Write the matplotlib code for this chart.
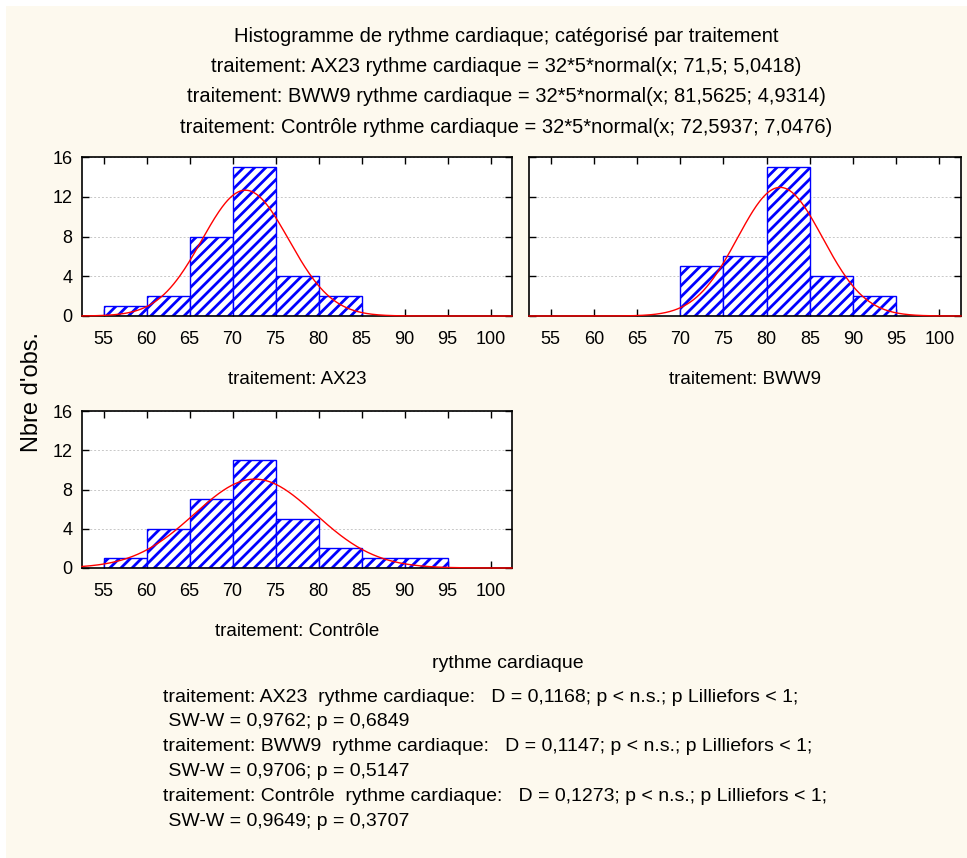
import numpy as np
import matplotlib
matplotlib.use("Agg")
import matplotlib.pyplot as plt
from matplotlib.patches import Rectangle

# --- data ---
bin_edges = [50, 55, 60, 65, 70, 75, 80, 85, 90, 95, 100]
groups = ["AX23", "BWW9", "Contrôle"]
counts_ax23 = [0, 1, 2, 8, 15, 4, 2, 0, 0, 0]
counts_bww9 = [0, 0, 0, 0, 5, 6, 15, 4, 2, 0]
counts_ctrl = [0, 1, 4, 7, 11, 5, 2, 1, 1, 0]
means = [71.5, 81.5625, 72.5937]
sds = [5.0418, 4.9314, 7.0476]
n_obs = 32
bin_w = 5
xticks = [55, 60, 65, 70, 75, 80, 85, 90, 95, 100]
yticks = [0, 4, 8, 12, 16]
header = [
    "Histogramme de rythme cardiaque; catégorisé par traitement",
    "traitement: AX23 rythme cardiaque = 32*5*normal(x; 71,5; 5,0418)",
    "traitement: BWW9 rythme cardiaque = 32*5*normal(x; 81,5625; 4,9314)",
    "traitement: Contrôle rythme cardiaque = 32*5*normal(x; 72,5937; 7,0476)",
]
footer = [
    "traitement: AX23  rythme cardiaque:   D = 0,1168; p < n.s.; p Lilliefors < 1;",
    " SW-W = 0,9762; p = 0,6849",
    "traitement: BWW9  rythme cardiaque:   D = 0,1147; p < n.s.; p Lilliefors < 1;",
    " SW-W = 0,9706; p = 0,5147",
    "traitement: Contrôle  rythme cardiaque:   D = 0,1273; p < n.s.; p Lilliefors < 1;",
    " SW-W = 0,9649; p = 0,3707",
]

W, H = 967, 858
plt.rcParams["font.family"] = ["Liberation Sans", "DejaVu Sans"]
plt.rcParams["hatch.linewidth"] = 2.0

fig = plt.figure(figsize=(W / 100, H / 100), dpi=100)
fig.patches.append(Rectangle((6 / W, 0), 1, 1 - 6 / H, transform=fig.transFigure,
                             facecolor="#fdf9ee", edgecolor="none", zorder=-10))


def px_axes(left, top, right, bottom):
    return fig.add_axes([left / W, 1 - bottom / H, (right - left) / W, (bottom - top) / H])


def draw_hist(ax, counts, mu, sd, label):
    lefts = bin_edges[:-1]
    for x0, c in zip(lefts, counts):
        if c > 0:
            ax.bar(x0, c, width=bin_w, align="edge", facecolor="white",
                   edgecolor="#0000ff", hatch="///", linewidth=1.0, zorder=2)
    xs = np.linspace(52.5, 102.5, 400)
    ys = n_obs * bin_w * np.exp(-0.5 * ((xs - mu) / sd) ** 2) / (sd * np.sqrt(2 * np.pi))
    ax.plot(xs, ys, color="#ff0000", linewidth=1.0, zorder=3, clip_on=False)
    ax.set_xlim(52.5, 102.5)
    ax.set_ylim(0, 16)
    ax.set_xticks(xticks)
    ax.set_yticks(yticks)
    ax.grid(axis="y", color="#c8c8c8", linestyle=(0, (2, 2)), linewidth=0.7, zorder=0)
    ax.tick_params(direction="in", top=True, right=True, length=5, width=1,
                   labelsize=13)
    ax.tick_params(axis="x", pad=11)
    ax.tick_params(axis="y", pad=7)
    for s in ax.spines.values():
        s.set_linewidth(1.2)
    ax.set_xlabel("traitement: " + label, fontsize=13.5, labelpad=16)


ax1 = px_axes(82, 157, 512, 316)
ax2 = px_axes(529, 157, 961, 316)
ax3 = px_axes(82, 411, 512, 568)
draw_hist(ax1, counts_ax23, means[0], sds[0], groups[0])
draw_hist(ax2, counts_bww9, means[1], sds[1], groups[1])
draw_hist(ax3, counts_ctrl, means[2], sds[2], groups[2])
ax2.set_yticklabels([])

for i, line in enumerate(header):
    fig.text(506 / W, 1 - (36 + i * 30.5) / H, line, ha="center", va="center",
             fontsize=14.5)

fig.text(32 / W, 1 - 392 / H, "Nbre d'obs.", rotation=90, ha="center", va="center",
         fontsize=17)

fig.text(508 / W, 1 - 663 / H, "rythme cardiaque", ha="center", va="center",
         fontsize=14)
for i, line in enumerate(footer):
    fig.text(163 / W, 1 - (697 + i * 24.8) / H, line, ha="left", va="center",
             fontsize=14)

fig.savefig("out.png", dpi=100)
